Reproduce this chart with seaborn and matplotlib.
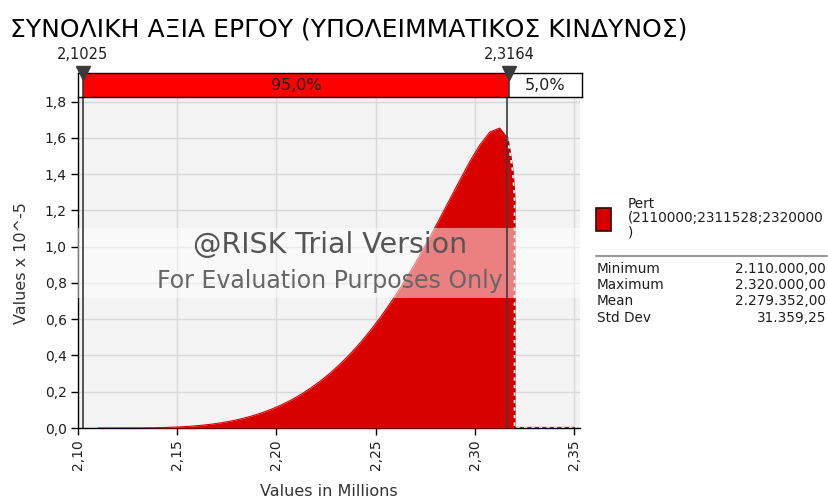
import numpy as np
import pandas as pd
import matplotlib
matplotlib.use("Agg")
import matplotlib.pyplot as plt
from matplotlib.patches import Rectangle
from matplotlib.lines import Line2D
import seaborn as sns

# ---------------- data ----------------
title = "ΣΥΝΟΛΙΚΗ ΑΞΙΑ ΕΡΓΟΥ (ΥΠΟΛΕΙΜΜΑΤΙΚΟΣ ΚΙΝΔΥΝΟΣ)"

# density curve (values in millions, density x 10^-5), up to the right marker
curve_x = [2.1100, 2.1125, 2.1175, 2.1225, 2.1275, 2.1325, 2.1375, 2.1425, 2.1475, 2.1525,
           2.1575, 2.1625, 2.1675, 2.1725, 2.1775, 2.1825, 2.1875, 2.1925, 2.1975, 2.2025,
           2.2075, 2.2125, 2.2175, 2.2225, 2.2275, 2.2325, 2.2375, 2.2425, 2.2475, 2.2525,
           2.2575, 2.2625, 2.2675, 2.2725, 2.2775, 2.2825, 2.2875, 2.2925, 2.2975, 2.3025,
           2.3075, 2.3125, 2.3164]
curve_y = [0.0, 0.0, 0.0, 0.0001, 0.0002, 0.0006, 0.0013, 0.0025, 0.0042, 0.0068,
           0.0104, 0.0152, 0.0214, 0.0294, 0.0392, 0.0513, 0.0659, 0.0832, 0.1036, 0.1274,
           0.1548, 0.1863, 0.2220, 0.2622, 0.3070, 0.3572, 0.4126, 0.4733, 0.5400, 0.6120,
           0.6900, 0.7737, 0.8630, 0.9575, 1.0565, 1.1590, 1.2640, 1.3680, 1.4700, 1.5610,
           1.6320, 1.6540, 1.6000]

# tail beyond the right marker (5% region), then zero up to the axis end
tail_x = [2.3164, 2.3175, 2.3190, 2.3198, 2.3200, 2.3200, 2.3500]
tail_y = [1.60, 1.53, 1.42, 1.30, 1.25, 0.0, 0.0]

left_marker = 2.1025
right_marker = 2.3164
marker_labels = ["2,1025", "2,3164"]
pct_labels = ["95,0%", "5,0%"]

x_ticks = [2.10, 2.15, 2.20, 2.25, 2.30, 2.35]
x_ticklabels = ["2,10", "2,15", "2,20", "2,25", "2,30", "2,35"]
y_ticks = [0.0, 0.2, 0.4, 0.6, 0.8, 1.0, 1.2, 1.4, 1.6, 1.8]
y_ticklabels = ["0,0", "0,2", "0,4", "0,6", "0,8", "1,0", "1,2", "1,4", "1,6", "1,8"]

legend_name = "Pert\n(2110000;2311528;2320000\n)"
stat_names = ["Minimum", "Maximum", "Mean", "Std Dev"]
stat_values = ["2.110.000,00", "2.320.000,00", "2.279.352,00", "31.359,25"]

# ---------------- style ----------------
sns.set_style("white")
plt.rcParams["font.family"] = ["DejaVu Sans"]

W, H = 829, 500
fig = plt.figure(figsize=(W / 100, H / 100), dpi=100)

def fx(px):
    return px / W

def fy(py):
    return 1 - py / H

XMIN, XMAX = 2.10, 2.353
red = "#d90000"
dark = "#3a3a3a"
txt = "#1e1e1e"

# main axes
ax = fig.add_axes([fx(78), fy(428), fx(580) - fx(78), fy(98) - fy(428)])
ax.set_facecolor("#f3f3f3")

main_df = pd.DataFrame({"x": curve_x, "d": curve_y})
tail_df = pd.DataFrame({"x": tail_x, "d": tail_y})

ax.fill_between(main_df["x"], 0, main_df["d"], color=red, linewidth=0, zorder=3)
sns.lineplot(data=main_df, x="x", y="d", estimator=None, sort=False, color=red,
             linewidth=0.8, ax=ax, zorder=3)
ax.fill_between(tail_df["x"], 0, tail_df["d"], color=red, linewidth=0, zorder=3)
# dashed outline of the tail (red/white dashes)
sns.lineplot(data=tail_df, x="x", y="d", estimator=None, sort=False, color="#b40000",
             linewidth=1.6, ax=ax, zorder=4)
sns.lineplot(data=tail_df, x="x", y="d", estimator=None, sort=False, color="white",
             linewidth=1.2, linestyle=(0, (2, 2.5)), ax=ax, zorder=4.1)

ax.set_xlim(XMIN, XMAX)
ax.set_ylim(0, 1.82)
ax.set_xticks(x_ticks)
ax.set_xticklabels(x_ticklabels, rotation=90, fontsize=10, color=txt)
ax.set_yticks(y_ticks)
ax.set_yticklabels(y_ticklabels, fontsize=10, color=txt)
ax.grid(True, color="#d8d8d8", linewidth=1)
ax.set_axisbelow(True)
for s in ["top", "right"]:
    ax.spines[s].set_visible(False)
for s in ["left", "bottom"]:
    ax.spines[s].set_color("#000000")
    ax.spines[s].set_linewidth(1.0)
ax.tick_params(axis="both", direction="out", length=5, width=1, color="#000000",
               bottom=True, left=True, pad=3)

ax.set_xlabel("Values in Millions", fontsize=11.5, color="#333333")
ax.set_ylabel("Values x 10^-5", fontsize=11.5, color="#333333")
ax.xaxis.set_label_coords(0.5, -0.17)
ax.yaxis.set_label_coords(-0.097, 0.5)

# marker lines
for m in [left_marker, right_marker]:
    ax.axvline(m, color=dark, linewidth=1.2, zorder=6)

# watermark band
ax.axhspan(0.717, 1.103, color="white", alpha=0.5, zorder=5, linewidth=0)
ax.text(0.502, 0.555, "@RISK Trial Version", transform=ax.transAxes, ha="center",
        va="center", fontsize=20.5, color="#555555", zorder=7)
ax.text(0.502, 0.445, "For Evaluation Purposes Only", transform=ax.transAxes,
        ha="center", va="center", fontsize=17, color="#666666", zorder=7)

# top bar axes
axb = fig.add_axes([fx(78), fy(97), fx(582) - fx(78), fy(73) - fy(97)])
axb.set_xlim(XMIN, XMAX)
axb.set_ylim(0, 1)
axb.set_facecolor("white")
axb.barh([0.5], [right_marker - left_marker], left=[left_marker], height=1.0,
         color="#ff0000", edgecolor="none", zorder=1)
for m in [left_marker, right_marker]:
    axb.axvline(m, color=dark, linewidth=1.2, zorder=2)
axb.text((left_marker + right_marker) / 2, 0.5, pct_labels[0], ha="center", va="center",
         fontsize=11.5, color=txt)
axb.text((right_marker + XMAX) / 2, 0.5, pct_labels[1], ha="center", va="center",
         fontsize=11.5, color=txt)
axb.set_xticks([])
axb.set_yticks([])
for s in axb.spines.values():
    s.set_color("#000000")
    s.set_linewidth(1.0)
axb.plot([left_marker, right_marker], [1.0, 1.0], linestyle="none", marker="v",
         markersize=10, color=dark, clip_on=False, zorder=5)
for m, lab in zip([left_marker, right_marker], marker_labels):
    axb.annotate(lab, (m, 1.0), xytext=(0, 8), textcoords="offset points",
                 ha="center", va="bottom", fontsize=10.5, color=txt,
                 annotation_clip=False)

# title
fig.text(fx(10), fy(29), title, fontsize=18, color="#000000", va="center", ha="left")

# legend panel
fig.patches.append(Rectangle((fx(596), fy(231)), fx(611) - fx(596), fy(208) - fy(231),
                             transform=fig.transFigure, facecolor="#d40000",
                             edgecolor="#3a0000", linewidth=1.2))
fig.text(fx(628), fy(197), legend_name, fontsize=9.8, color=txt, va="top", ha="left",
         linespacing=1.0)
fig.add_artist(Line2D([fx(596), fx(827)], [fy(256), fy(256)], color="#999999",
                      linewidth=1.5, transform=fig.transFigure))
row_y = [269, 285, 301, 318]
for name, val, yy in zip(stat_names, stat_values, row_y):
    fig.text(fx(597), fy(yy), name, fontsize=9.8, color=txt, va="center", ha="left")
    fig.text(fx(826), fy(yy), val, fontsize=9.8, color=txt, va="center", ha="right")

fig.savefig("out.png", dpi=100)
